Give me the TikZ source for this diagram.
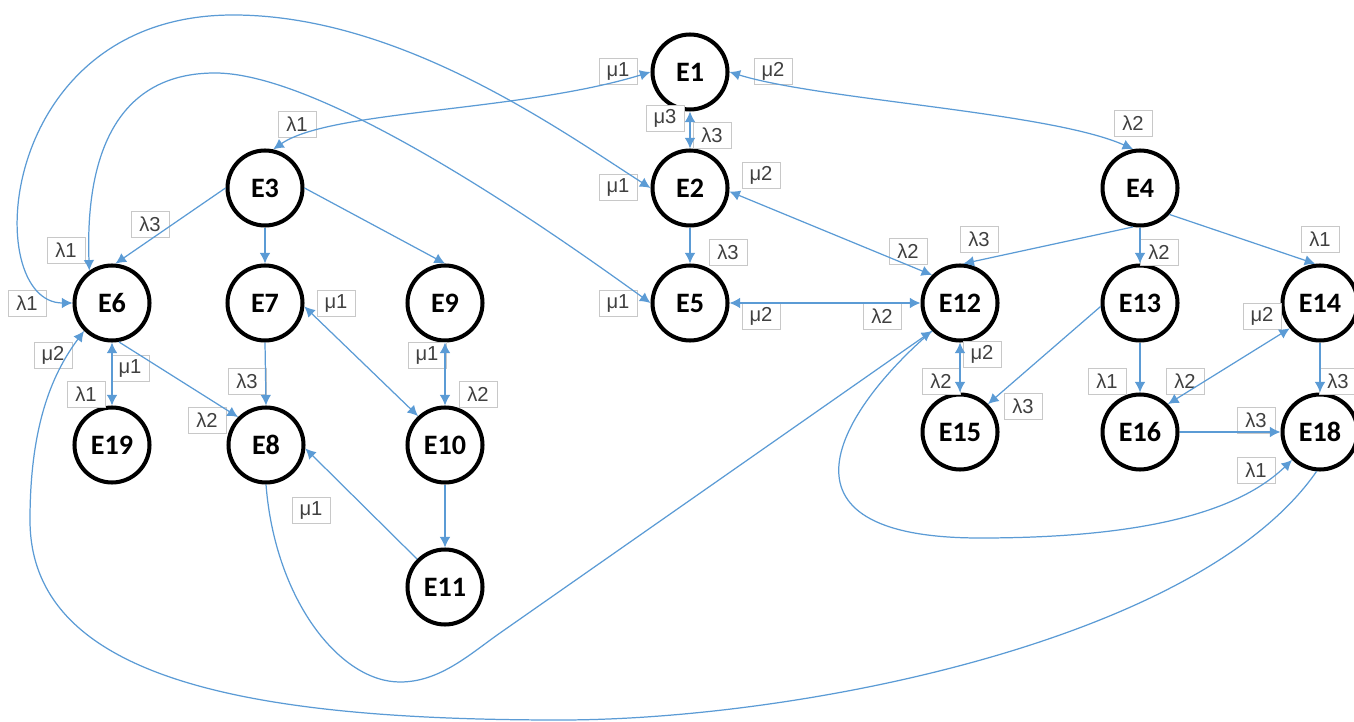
\documentclass[tikz,border=0pt]{standalone}
\usepackage{fontspec}
\setmainfont{Liberation Sans}
\newfontfamily\calibri{Carlito}
\usetikzlibrary{arrows.meta}
\definecolor{edgeblue}{RGB}{91,155,213}
\definecolor{labgray}{RGB}{200,200,200}
\definecolor{labtext}{RGB}{64,64,64}

\begin{document}
\begin{tikzpicture}[x=0.02cm, y=-0.02cm,
    state/.style={circle, draw, line width=2.3pt, minimum size=1.5cm, inner sep=0pt, fill=white,
        font={\calibri\bfseries\fontsize{16}{18}\selectfont}},
    rate/.style={draw=labgray, fill=white, text=labtext, line width=0.5pt, minimum width=0.76cm,
        minimum height=0.52cm, inner sep=0pt, font={\fontsize{11.5}{13}\selectfont}},
    link/.style={edgeblue, line width=0.7pt, -{Latex[length=6pt,width=6pt]}},
    both/.style={link, {Latex[length=6pt,width=6pt]}-{Latex[length=6pt,width=6pt]}}]
    \useasboundingbox (0,0) rectangle (1354,722);

    \foreach \n/\x/\y in {1/690/72, 2/690/188, 5/690/303, 3/265/188, 6/112/303, 7/265/303,
        9/445/303, 19/112/445, 8/266/445, 10/445/445, 11/445/587, 4/1140/188, 12/960/303,
        13/1140/303, 14/1320/303, 15/960/432, 16/1140/432, 18/1320/432}
        \node[state] (e\n) at (\x,\y) {E\n};

    \foreach \n/\x/\y/\t in {1/297/124/λ1, 2/618/71/μ1, 3/773/71/μ2, 4/1133/123/λ2,
        5/665/118/μ3, 6/712/135/λ3, 7/618/187/μ1, 8/761/175/μ2, 9/150/224/λ3, 10/66/250/λ1,
        11/728/252/λ3, 12/908/251/λ2, 13/979/239/λ3, 14/1159/252/λ2, 15/1320/239/λ1,
        16/27/303/λ1, 17/336/303/μ1, 18/618/303/μ1, 19/761/316/μ2, 20/882/316/λ2,
        21/1262/316/μ2, 22/53/355/μ2, 23/427/355/μ1, 24/982/354/μ2, 25/130/368/μ1,
        26/247/381/λ3, 27/941/381/λ2, 28/1107/381/λ1, 29/1185/381/λ2, 30/1338/381/λ3,
        31/86/394/λ1, 32/478/394/λ2, 33/1023/406/λ3, 34/207/420/λ2, 35/1256/420/λ3,
        36/1256/470/λ1, 37/311/510/μ1}
        \node[rate] (l\n) at (\x,\y) {\t};

    \coordinate (p1) at (233,15);
    \coordinate (p2) at (215,73);
    \coordinate (p3) at (560,720);
    \coordinate (p4) at (30,520);
    \coordinate (p5) at (400,682);
    \coordinate (p6) at (980,538);
    \coordinate (p7) at (500,633);

    \draw[link] (e2.south) -- (e5.north);
    \draw[link] (e3.west) -- (e6.85);
    \draw[link] (e3.south) -- (e7.north);
    \draw[link] (e3.east) -- (e9.north);
    \draw[link] (e7.south) -- (e8.north);
    \draw[link] (e6.280) -- (e8.135);
    \draw[link] (e10.south) -- (e11.north);
    \draw[link] (e11.135) -- (e8.355);
    \draw[link] (e4.260) -- (e12.85);
    \draw[link] (e4.south) -- (e13.north);
    \draw[link] (e4.318) -- (e14.97);
    \draw[link] (e13.185) -- (e15.45);
    \draw[link] (e13.south) -- (e16.north);
    \draw[link] (e14.south) -- (e18.north);
    \draw[link] (e16.east) -- (e18.west);

    \draw[both] (e1.south) -- (e2.north);
    \draw[both] (e2.355) -- (e12.135);
    \draw[both] (e5.east) -- (e12.west);
    \draw[both] (e6.south) -- (e19.north);
    \draw[both] (e7.355) -- (e10.133);
    \draw[both] (e9.south) -- (e10.north);
    \draw[both] (e12.south) -- (e15.north);
    \draw[both] (e14.220) -- (e16.45);

    \draw[both] (e3.78) .. controls (330,110) and (520,112) .. (e1.west);
    \draw[both] (e1.east) .. controls (820,100) and (1050,112) .. (e4.100);
    \draw[both] (e6.west) .. controls (-20,303) and (-5,15) .. (p1)
        .. controls (400,15) and (560,130) .. (e2.west);
    \draw[both] (e6.125) .. controls (85,150) and (120,73) .. (p2)
        .. controls (330,73) and (570,245) .. (e5.west);
    \draw[link] (e18.265) .. controls (1200,640) and (800,720) .. (p3)
        .. controls (250,720) and (30,680) .. (p4)
        .. controls (30,420) and (55,370) .. (e6.225);
    \draw[link] (e8.south) .. controls (275,600) and (340,682) .. (p5)
        .. controls (440,682) and (470,654) .. (p7) -- (e12.225);
    \draw[link] (e12.225) .. controls (840,410) and (760,538) .. (p6)
        .. controls (1150,538) and (1240,510) .. (e18.225);
\end{tikzpicture}
\end{document}
